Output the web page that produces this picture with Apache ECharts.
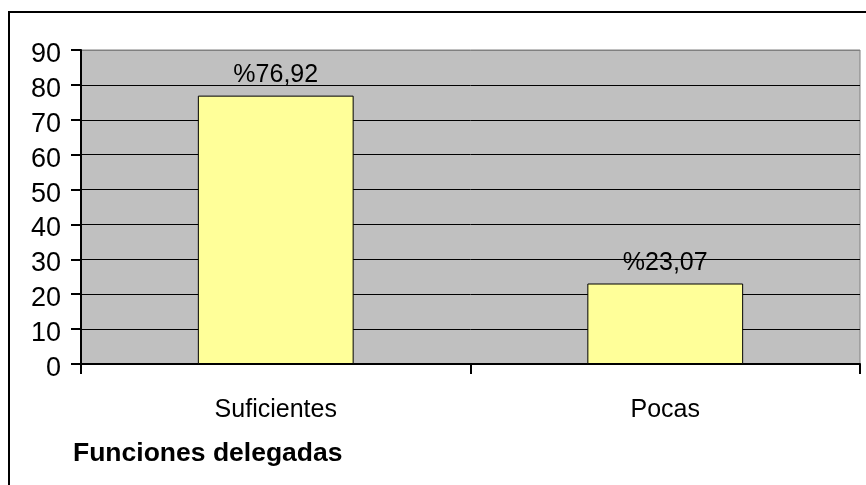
<!DOCTYPE html>
<html>
<head>
<meta charset="utf-8">
<script src="https://cdn.jsdelivr.net/npm/echarts@6/dist/echarts.min.js"></script>
<style>
  html, body { margin: 0; padding: 0; background: #fff; }
  #chart { width: 866px; height: 485px; }
</style>
</head>
<body>
<div id="chart"></div>
<script>
// Funciones delegadas: share of answers per category (percent)
const categories = ['Suficientes', 'Pocas'];
const percentages = [76.92, 23.07];
const yTicks = { min: 0, max: 90, step: 10 };

const FONT = '"Liberation Sans", Arial, sans-serif';

// value label written as "%76,92"
function pctLabel(v) {
  return '%' + v.toFixed(2).replace('.', ',');
}

// black grid lines, the top one matches the grey plot frame
const splitColors = [];
for (let v = yTicks.min; v <= yTicks.max; v += yTicks.step) {
  splitColors.push(v === yTicks.max ? '#808080' : '#000000');
}

const chart = echarts.init(document.getElementById('chart'), null, { renderer: 'canvas' });
chart.setOption({
  backgroundColor: '#ffffff',
  animation: false,
  title: {
    text: 'Funciones delegadas',
    left: 73,
    top: 440,
    padding: 0,
    textStyle: { fontFamily: FONT, fontSize: 26.5, fontWeight: 'bold', color: '#000' }
  },
  graphic: [{
    type: 'rect',
    shape: { x: 9, y: 12, width: 1000, height: 1000 },
    style: { fill: 'none', stroke: '#000', lineWidth: 2 },
    silent: true
  }],
  grid: {
    left: 81, right: 6, top: 50, bottom: 121,
    show: true,
    backgroundColor: '#c0c0c0',
    borderColor: '#808080',
    borderWidth: 1
  },
  xAxis: {
    type: 'category',
    data: categories,
    axisLine: { lineStyle: { color: '#000', width: 2 } },
    axisTick: { show: true, length: 10, lineStyle: { color: '#000', width: 2 } },
    axisLabel: { margin: 34, fontFamily: FONT, fontSize: 25, color: '#000' },
    splitLine: { show: false }
  },
  yAxis: {
    type: 'value',
    min: yTicks.min,
    max: yTicks.max,
    interval: yTicks.step,
    axisLine: { show: true, lineStyle: { color: '#000', width: 2 } },
    axisTick: { show: true, length: 10, lineStyle: { color: '#000', width: 2 } },
    axisLabel: {
      margin: 20,
      formatter: v => '{t|' + v + '}',
      rich: {
        t: { fontFamily: FONT, fontSize: 27, color: '#000', padding: [9, 0, 0, 0] }
      }
    },
    splitLine: { show: true, lineStyle: { color: splitColors, width: 1 } }
  },
  series: [{
    type: 'bar',
    data: percentages,
    barWidth: '40%',
    itemStyle: { color: '#ffff99', borderColor: '#000', borderWidth: 1 },
    label: {
      show: true,
      position: 'top',
      distance: 8,
      formatter: p => pctLabel(p.value),
      fontFamily: FONT,
      fontSize: 25,
      color: '#000'
    }
  }]
});
</script>
</body>
</html>
